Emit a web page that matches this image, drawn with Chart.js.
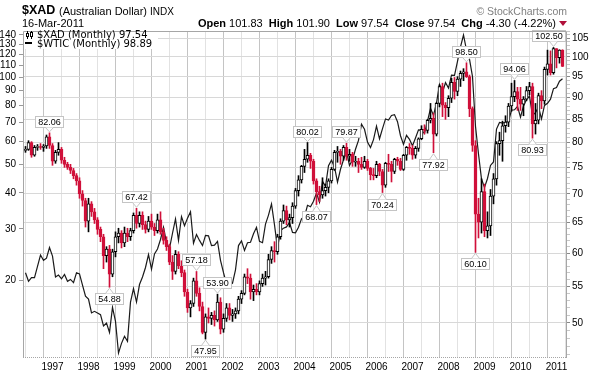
<!DOCTYPE html>
<html>
<head>
<meta charset="utf-8">
<script src="https://cdn.jsdelivr.net/npm/chart.js@4.4.0/dist/chart.umd.min.js"></script>
<style>
  html, body { margin: 0; padding: 0; background: #fff; }
  #wrap { position: relative; width: 594px; height: 377px; overflow: hidden; font-family: 'Liberation Sans', Arial, sans-serif; color: #000; }
  #c { position: absolute; left: 0; top: 0; }
  .t { position: absolute; white-space: nowrap; line-height: 1; }
  #sym { left: 22px; top: 4px; font-size: 12.5px; font-weight: bold; }
  #name { left: 59px; top: 6px; font-size: 11px; }
  #name span { font-size: 10px; }
  #date { left: 22px; top: 18px; font-size: 11px; }
  #quote { right: 27px; top: 18px; font-size: 11px; }
  #quote b { margin-left: 3px; }
  .tri { display: inline-block; width: 0; height: 0; border-left: 4px solid transparent; border-right: 4px solid transparent; border-top: 5px solid #b0103a; margin-left: 3px; vertical-align: 1px; }
  #copy { right: 27px; top: 6px; font-size: 10.5px; color: #808080; }
  #legbox { position: absolute; left: 24px; top: 32px; width: 134px; height: 17px; background: #fff; }
  .leg { font-family: 'DejaVu Sans', Verdana, sans-serif; font-size: 10px; left: 37px; }
  #leg1 { top: 30px; }
  #leg2 { top: 39px; }
  #icon { position: absolute; left: 25px; top: 31px; }
  #dash { position: absolute; left: 25px; top: 42px; width: 7px; height: 2px; background: #000; }
</style>
</head>
<body>
<div id="wrap">
  <canvas id="c" width="594" height="377"></canvas>
  <div class="t" id="sym">$XAD</div>
  <div class="t" id="name">(Australian Dollar) <span>INDX</span></div>
  <div class="t" id="date">16-Mar-2011</div>
  <div class="t" id="quote"><b>Open</b> 101.83 <b>High</b> 101.90 <b>Low</b> 97.54 <b>Close</b> 97.54 <b>Chg</b> -4.30 (-4.22%)<span class="tri"></span></div>
  <div class="t" id="copy">&copy; StockCharts.com</div>
  <div id="legbox"></div>
  <svg id="icon" width="9" height="8"><path d="M2.5 0V8M6.5 0V8" stroke="#000"/><rect x="1.5" y="2.5" width="2" height="3" fill="#fff" stroke="#000"/><rect x="5.5" y="1.5" width="2" height="4" fill="#fff" stroke="#000"/></svg>
  <div id="dash"></div>
  <div class="t leg" id="leg1">$XAD (Monthly) 97.54</div>
  <div class="t leg" id="leg2">$WTIC (Monthly) 98.89</div>
</div>
<script>
// monthly bars, Apr 1996 .. Mar 2011 (index 0 = Apr 1996, index 9 = Jan 1997)
const xadOpen = [
  78.4, 78.6, 80.0, 77.4, 79.0, 79.2, 79.0, 79.3, 81.2,
  79.4, 76.2, 78.0, 78.6, 76.4, 75.6, 75.0, 74.4, 73.4, 72.4, 70.0, 68.8,
  65.2, 68.2, 66.8, 65.4, 63.8, 62.6, 59.6, 60.6, 56.8, 60.2, 62.6, 63.2,
  61.6, 63.2, 62.6, 63.6, 66.2, 64.8, 66.2, 64.6, 63.8, 65.2, 64.2, 63.6,
  65.4, 63.4, 62.0, 61.0, 58.6, 57.2, 59.8, 58.0, 57.0, 54.2, 52.0, 52.6,
  55.8, 54.0, 52.2, 48.8, 50.8, 50.6, 51.0, 50.4, 52.8, 49.2, 50.6, 52.0,
  51.0, 51.2, 51.6, 53.2, 54.0, 56.4, 56.2, 54.2, 54.6, 54.2, 55.4, 56.2,
  56.4, 59.0, 60.4, 60.2, 62.6, 65.2, 67.0, 65.4, 65.8, 67.8, 70.6, 72.6,
  75.2, 76.6, 77.4, 76.2, 72.4, 70.4, 69.8, 70.6, 71.2, 72.4, 74.6, 78.0,
  78.2, 77.2, 79.0, 77.2, 77.6, 76.0, 76.2, 75.6, 75.0, 76.2, 74.8, 73.6,
  73.4, 75.6, 74.2, 71.6, 75.8, 75.6, 74.2, 76.6, 76.2, 74.6, 77.4, 79.0,
  78.8, 77.4, 78.8, 80.8, 82.8, 82.6, 84.8, 85.2, 81.8, 88.6, 92.6, 88.2,
  87.6, 89.8, 93.6, 91.4, 94.4, 95.8, 96.2, 95.0, 87.4, 79.4, 66.4, 65.0,
  70.4, 63.6, 64.4, 69.6, 72.8, 79.8, 80.4, 83.6, 84.4, 88.0, 90.2, 91.4,
  89.6, 88.4, 89.6, 91.6, 92.6, 84.0, 84.8, 90.4, 89.2, 96.8, 98.2, 96.0,
  102.2, 99.8, 101.83
];
const xadHigh = [
  79.2, 80.4, 80.2, 79.4, 79.6, 79.8, 79.6, 81.6, 82.06,
  79.8, 78.4, 80.0, 79.0, 77.0, 76.0, 75.6, 74.8, 73.8, 73.0, 70.6, 69.2,
  69.2, 68.6, 67.4, 65.8, 64.2, 63.0, 61.0, 61.2, 60.6, 63.4, 64.0, 63.6,
  64.2, 64.0, 64.0, 66.6, 67.42, 66.8, 66.8, 65.2, 66.0, 66.4, 64.8, 66.4,
  66.8, 64.0, 62.6, 61.4, 59.6, 60.4, 60.2, 58.8, 57.4, 54.6, 53.0, 56.2,
  57.18, 54.8, 52.8, 51.2, 52.0, 51.4, 51.6, 53.90, 53.4, 51.2, 52.6, 52.6,
  51.8, 52.0, 53.6, 54.4, 56.8, 57.6, 56.8, 55.2, 55.4, 55.8, 56.8, 57.2,
  59.8, 61.0, 61.8, 63.0, 65.6, 68.0, 67.8, 66.4, 68.4, 71.0, 73.4, 75.4,
  78.6, 80.02, 77.8, 76.6, 72.8, 71.4, 73.0, 71.8, 72.8, 75.0, 78.4, 79.2,
  78.6, 79.4, 79.87, 78.6, 78.0, 77.2, 76.8, 77.0, 77.2, 76.6, 75.0, 74.8,
  76.2, 75.8, 74.6, 76.0, 77.6, 76.2, 76.8, 77.0, 76.8, 77.6, 79.2, 79.8,
  79.4, 79.2, 81.0, 83.6, 83.8, 85.0, 88.6, 86.4, 88.8, 93.0, 93.4, 88.8,
  90.4, 94.6, 94.8, 95.0, 96.4, 97.0, 98.50, 95.4, 87.8, 80.4, 69.2, 72.8,
  71.8, 66.8, 70.8, 73.8, 80.2, 82.2, 84.6, 85.8, 88.6, 93.4, 94.06, 92.4,
  92.4, 90.2, 92.6, 93.6, 93.4, 88.6, 91.0, 91.6, 97.4, 101.8, 101.6, 102.50,
  102.2, 101.9, 101.90
];
const xadLow = [
  78.0, 78.4, 77.0, 77.2, 78.4, 78.6, 78.2, 78.8, 78.8,
  75.4, 75.8, 77.4, 75.8, 75.0, 74.6, 73.8, 72.8, 71.6, 69.2, 67.8, 64.2,
  63.4, 66.0, 64.8, 63.0, 61.8, 57.6, 58.6, 54.88, 56.4, 59.4, 61.6, 60.8,
  61.0, 61.8, 62.0, 63.2, 64.0, 64.2, 63.8, 63.2, 63.4, 63.8, 62.8, 63.2,
  63.0, 61.4, 60.4, 58.2, 56.0, 56.8, 57.6, 56.4, 53.6, 51.4, 50.8, 52.2,
  53.6, 51.6, 48.6, 47.95, 50.0, 49.8, 49.6, 50.2, 48.6, 48.8, 50.2, 50.4,
  50.2, 50.6, 51.2, 52.6, 53.8, 55.4, 53.2, 53.0, 53.8, 53.8, 55.0, 55.2,
  56.2, 58.4, 58.6, 59.8, 62.2, 64.8, 64.6, 64.2, 64.8, 67.4, 69.6, 72.0,
  74.0, 76.0, 74.8, 71.8, 68.07, 68.6, 69.2, 69.6, 70.2, 72.0, 74.4, 76.0,
  75.6, 76.4, 76.4, 76.2, 75.2, 75.2, 74.0, 74.6, 74.8, 74.4, 72.6, 72.6,
  73.0, 73.4, 70.24, 71.2, 74.2, 72.2, 73.8, 75.4, 74.4, 74.4, 76.4, 77.6,
  76.6, 76.8, 78.2, 80.6, 81.8, 82.0, 84.2, 77.92, 81.4, 87.8, 85.6, 85.0,
  85.6, 88.8, 89.6, 90.4, 92.6, 94.0, 94.8, 85.6, 78.2, 60.10, 62.4, 63.2,
  62.6, 62.4, 62.8, 68.2, 71.6, 77.4, 76.2, 82.2, 83.4, 86.8, 89.0, 87.0,
  87.0, 85.8, 89.2, 90.6, 80.93, 81.8, 84.0, 87.4, 88.4, 95.4, 95.4, 95.6,
  97.2, 98.4, 97.54
];
const xadClose = [
  78.6, 80.0, 77.4, 79.0, 79.2, 79.0, 79.3, 81.2, 79.4,
  76.2, 78.0, 78.6, 76.4, 75.6, 75.0, 74.4, 73.4, 72.4, 70.0, 68.8, 65.2,
  68.2, 66.8, 65.4, 63.8, 62.6, 59.6, 60.6, 56.8, 60.2, 62.6, 63.2, 61.6,
  63.2, 62.6, 63.6, 66.2, 64.8, 66.2, 64.6, 63.8, 65.2, 64.2, 63.6, 65.4,
  63.4, 62.0, 61.0, 58.6, 57.2, 59.8, 58.0, 57.0, 54.2, 52.0, 52.6, 55.8,
  54.0, 52.2, 48.8, 50.8, 50.6, 51.0, 50.4, 52.8, 49.2, 50.6, 52.0, 51.0,
  51.2, 51.6, 53.2, 54.0, 56.4, 56.2, 54.2, 54.6, 54.2, 55.4, 56.2, 56.4,
  59.0, 60.4, 60.2, 62.6, 65.2, 67.0, 65.4, 65.8, 67.8, 70.6, 72.6, 75.2,
  76.6, 77.4, 76.2, 72.4, 70.4, 69.8, 70.6, 71.2, 72.4, 74.6, 78.0, 78.2,
  77.2, 79.0, 77.2, 77.6, 76.0, 76.2, 75.6, 75.0, 76.2, 74.8, 73.6, 73.4,
  75.6, 74.2, 71.6, 75.8, 75.6, 74.2, 76.6, 76.2, 74.6, 77.4, 79.0, 78.8,
  77.4, 78.8, 80.8, 82.8, 82.6, 84.8, 85.2, 81.8, 88.6, 92.6, 88.2, 87.6,
  89.8, 93.6, 91.4, 94.4, 95.8, 96.2, 95.0, 87.4, 79.4, 66.4, 65.0, 70.4,
  63.6, 64.4, 69.6, 72.8, 79.8, 80.4, 83.6, 84.4, 88.0, 90.2, 91.4, 89.6,
  88.4, 89.6, 91.6, 92.6, 84.0, 84.8, 90.4, 89.2, 96.8, 98.2, 96.0, 102.2,
  99.8, 101.8, 97.54
];
const wticClose = [
  21.2, 19.8, 20.4, 20.4, 22.3, 24.4, 23.4, 23.8, 25.9,
  24.2, 20.5, 20.8, 20.2, 20.9, 19.8, 20.1, 19.6, 21.2, 21.0, 19.2, 17.6,
  17.2, 15.4, 15.6, 15.4, 15.2, 13.9, 14.2, 13.2, 16.1, 14.4, 11.2, 12.1,
  12.8, 12.3, 16.8, 18.7, 16.8, 19.3, 20.5, 22.1, 24.5, 21.8, 24.6, 25.6,
  27.6, 30.4, 26.9, 25.7, 29.0, 32.5, 27.4, 33.1, 30.8, 32.7, 34.4, 26.8,
  28.7, 27.4, 26.3, 28.5, 28.4, 26.3, 26.4, 27.2, 23.4, 21.2, 19.4, 19.8,
  19.5, 21.7, 26.3, 27.3, 25.3, 26.9, 27.0, 28.9, 30.4, 27.2, 26.9, 31.2,
  33.5, 36.6, 31.0, 25.8, 29.6, 30.2, 30.5, 31.6, 29.2, 29.1, 30.4, 32.5,
  33.1, 36.2, 35.8, 37.4, 39.9, 37.1, 43.8, 42.1, 49.6, 51.8, 49.1, 43.5,
  48.2, 52.0, 55.4, 49.7, 52.0, 56.5, 60.6, 68.9, 66.2, 59.8, 57.3, 61.0,
  67.9, 61.4, 66.6, 71.9, 71.3, 73.9, 74.4, 70.3, 62.9, 58.7, 63.1, 61.1,
  58.1, 61.8, 65.9, 65.8, 64.0, 70.7, 78.2, 74.0, 81.7, 94.5, 88.7, 96.0,
  91.8, 101.8, 101.6, 113.5, 127.4, 140.0, 124.1, 115.5, 100.6, 67.8, 54.4, 44.6,
  41.7, 44.8, 49.7, 51.1, 66.3, 69.9, 69.5, 70.0, 70.6, 77.0, 77.3, 79.4,
  72.9, 79.7, 83.8, 86.2, 74.0, 75.6, 79.0, 71.9, 80.0, 81.4, 84.1, 91.4,
  92.2, 97.0, 98.89
];
const yearLabels = ['1997','1998','1999','2000','2001','2002','2003','2004','2005','2006','2007','2008','2009','2010','2011'];
const rightTicks = [50, 55, 60, 65, 70, 75, 80, 85, 90, 95, 100, 105];
const leftTicks = [20, 30, 40, 50, 60, 70, 80, 90, 100, 110, 120, 130, 140];
// labelled highs and lows (bar index, which end)
const markIdx  = [8, 28, 37, 57, 60, 64, 94, 97, 107, 119, 136, 147, 150, 163, 169, 176];
const markSide = ['high','low','high','high','low','high','high','low','high','low','low','high','low','high','low','high'];

const RED = '#d0103a';
const FONT = "'Liberation Sans', Arial, sans-serif";
Chart.defaults.font.family = FONT;

const idx = xadClose.map((_, i) => i);
const up = xadClose.map((c, i) => c >= xadOpen[i]);

//frame + value callouts
const extras = {
  id: 'extras',
  afterDatasetsDraw(chart) {
    const { ctx, chartArea: a } = chart;
    const x = chart.scales.x, y = chart.scales.y;
    ctx.save();
    ctx.font = '9px ' + FONT;
    ctx.textAlign = 'center';
    ctx.textBaseline = 'middle';
    markIdx.forEach((k, i) => {
      const hi = markSide[i] === 'high';
      const v = hi ? xadHigh[k] : xadLow[k];
      const txt = v.toFixed(2);
      const px = x.getPixelForValue(k), py = y.getPixelForValue(v);
      const w = Math.round(ctx.measureText(txt).width) + 5, h = 11;
      let bx = Math.round(px - w / 2) + 0.5;
      bx = Math.min(Math.max(bx, a.left + 1.5), a.right - w - 1.5);
      const by = hi ? Math.round(py - 6 - h) + 0.5 : Math.round(py + 6) + 0.5;
      ctx.fillStyle = '#fff';
      ctx.strokeStyle = '#c4c4c4';
      ctx.lineWidth = 1;
      ctx.fillRect(bx, by, w, h);
      ctx.strokeRect(bx, by, w, h);
      const ey = hi ? by + h : by;
      ctx.beginPath();
      ctx.moveTo(px - 4, ey);
      ctx.lineTo(px, hi ? py - 1 : py + 1);
      ctx.lineTo(px + 4, ey);
      ctx.closePath();
      ctx.fill();
      ctx.beginPath();
      ctx.moveTo(px - 4, ey);
      ctx.lineTo(px, hi ? py - 1 : py + 1);
      ctx.lineTo(px + 4, ey);
      ctx.stroke();
      ctx.fillStyle = '#000';
      ctx.fillText(txt, bx + w / 2, by + h / 2 + 0.5);
    });
    ctx.strokeStyle = '#a6a6a6';
    ctx.beginPath();
    ctx.moveTo(a.left + 0.5, a.bottom);
    ctx.lineTo(a.left + 0.5, a.top + 0.5);
    ctx.lineTo(a.right - 0.5, a.top + 0.5);
    ctx.lineTo(a.right - 0.5, a.bottom);
    ctx.stroke();
    ctx.setLineDash([1, 1]);
    ctx.beginPath();
    ctx.moveTo(a.left, a.bottom - 0.5);
    ctx.lineTo(a.right, a.bottom - 0.5);
    ctx.stroke();
    ctx.restore();
  }
};

const tickFont = { family: FONT, size: 10 };

new Chart(document.getElementById('c'), {
  type: 'bar',
  data: {
    datasets: [
      {
        type: 'bar', label: 'body', yAxisID: 'y', order: 1,
        data: idx.map(i => ({ x: i, y: [xadOpen[i], xadClose[i]] })),
        barThickness: 3, grouped: false, borderWidth: 1, borderSkipped: false,
        backgroundColor: up.map(u => u ? '#fff' : RED),
        borderColor: up.map(u => u ? '#000' : RED)
      },
      {
        type: 'bar', label: 'wick', yAxisID: 'y', order: 2,
        data: idx.map(i => ({ x: i, y: [xadLow[i], xadHigh[i]] })),
        barThickness: 1, grouped: false, borderWidth: 0,
        backgroundColor: up.map(u => u ? '#000' : RED)
      },
      {
        type: 'line', label: '$WTIC', yAxisID: 'y2', order: 3,
        data: idx.map(i => ({ x: i, y: wticClose[i] })),
        borderColor: '#1a1a1a', borderWidth: 1.2, pointRadius: 0, tension: 0
      }
    ]
  },
  options: {
    responsive: false,
    animation: false,
    devicePixelRatio: 1,
    layout: { padding: { top: 31, left: 0, right: 0, bottom: 0 } },
    plugins: { legend: { display: false }, tooltip: { enabled: false } },
    scales: {
      x: {
        type: 'linear', min: -0.8333, max: 180.5, offset: false,
        afterFit(s) { s.height = 19; },
        afterBuildTicks(s) {
          const t = [];
          for (let k = 3; k <= 180; k += 6) t.push({ value: k });
          s.ticks = t;
        },
        ticks: {
          autoSkip: false, maxRotation: 0, padding: 3, color: '#000', font: tickFont,
          callback: v => (v - 9) % 12 === 0 ? yearLabels[(v - 9) / 12] : ''
        },
        grid: {
          drawTicks: false,
          color: c => c.tick && (c.tick.value - 9) % 12 === 0 ? '#c4c4c4' : '#e2e2e2'
        },
        border: { display: false }
      },
      y: {
        type: 'logarithmic', position: 'right', min: 45.64, max: 107.0,
        afterFit(s) { s.width = 27; },
        afterBuildTicks(s) {
          const t = [];
          for (let v = 46; v <= 107; v++) t.push({ value: v });
          s.ticks = t;
        },
        ticks: {
          autoSkip: false, padding: 2, color: '#000', font: tickFont,
          callback: v => rightTicks.includes(v) ? String(v) : ''
        },
        grid: {
          tickLength: 3,
          tickColor: c => c.tick && rightTicks.includes(c.tick.value) ? '#888' : '#c8c8c8',
          color: c => c.tick && rightTicks.includes(c.tick.value) ? '#d8d8d8' : 'rgba(0,0,0,0)'
        },
        border: { display: false }
      },
      y2: {
        type: 'logarithmic', position: 'left', min: 10.77, max: 144.5,
        afterFit(s) { s.width = 23; },
        afterBuildTicks(s) { s.ticks = leftTicks.map(v => ({ value: v })); },
        ticks: {
          autoSkip: false, padding: 3, color: '#000', font: tickFont,
          callback: v => String(v)
        },
        grid: { drawOnChartArea: false, tickLength: 4, tickColor: '#999' },
        border: { display: false }
      }
    }
  },
  plugins: [extras]
});
</script>
</body>
</html>
